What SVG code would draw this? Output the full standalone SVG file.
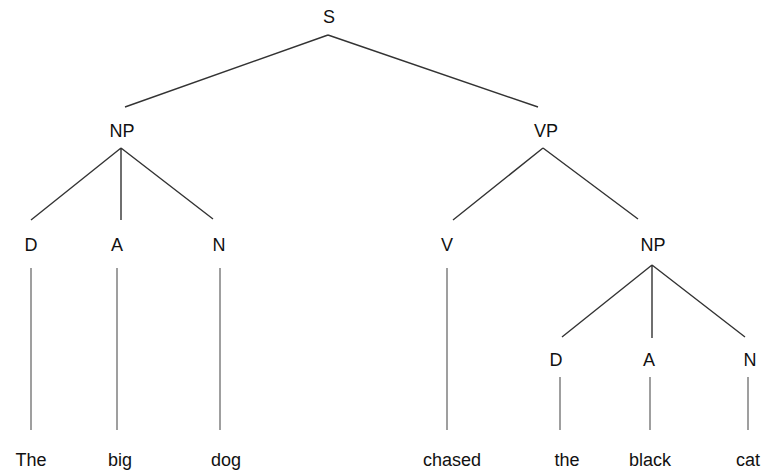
<svg xmlns="http://www.w3.org/2000/svg" width="766" height="472" viewBox="0 0 766 472">
<style>
text{font-family:"Liberation Sans",Arial,sans-serif;font-size:18px;fill:#111;text-anchor:middle}
.e{stroke:#333;stroke-width:1.4;fill:none}
.t{stroke:#888;stroke-width:1.6;fill:none}
</style>
<rect width="766" height="472" fill="#fff"/>
<g id="connectors">
<path class="e" d="M328 35L125 107M328 35L538 107"/>
<path class="e" d="M121 148L31 220M121 148L121 220M121 148L213 219"/>
<path class="e" d="M543 148L453 220M543 148L638 219"/>
<path class="e" d="M652 265L562 337M652 265L652 338M652 265L745 337"/>
<path class="t" d="M31 268V430M117 268V430M220 268V430M447 268V430M560 377V430M650 377V430M748 377V430"/>
</g>
<g id="S"><text x="329" y="23">S</text></g>
<g id="NP1"><text x="122" y="137">NP</text></g>
<g id="VP"><text x="546" y="137">VP</text></g>
<g id="D1"><text x="31" y="251">D</text></g>
<g id="A1"><text x="117" y="251">A</text></g>
<g id="N1"><text x="219" y="251">N</text></g>
<g id="V"><text x="447" y="251">V</text></g>
<g id="NP2"><text x="653" y="251">NP</text></g>
<g id="D2"><text x="556" y="366">D</text></g>
<g id="A2"><text x="649" y="366">A</text></g>
<g id="N2"><text x="750" y="366">N</text></g>
<g id="w1"><text x="31" y="466">The</text></g>
<g id="w2"><text x="120" y="466">big</text></g>
<g id="w3"><text x="226" y="466">dog</text></g>
<g id="w4"><text x="452" y="466">chased</text></g>
<g id="w5"><text x="567" y="466">the</text></g>
<g id="w6"><text x="650" y="466">black</text></g>
<g id="w7"><text x="748" y="466">cat</text></g>
</svg>
